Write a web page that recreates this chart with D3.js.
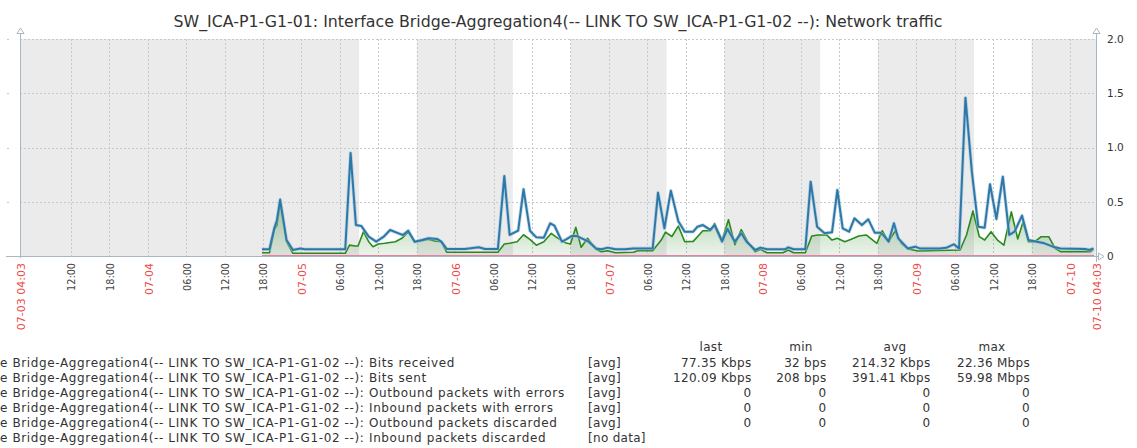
<!DOCTYPE html>
<html>
<head>
<meta charset="utf-8">
<script src="https://cdn.jsdelivr.net/npm/d3@7"></script>
<style>
  html, body { margin: 0; padding: 0; background: #fff; overflow: hidden; }
  svg { display: block; font-family: "DejaVu Sans", sans-serif; }
</style>
</head>
<body>
<svg id="chart" width="1137" height="448"></svg>
<script>
// ---- chart data -------------------------------------------------------
const title = "SW_ICA-P1-G1-01: Interface Bridge-Aggregation4(-- LINK TO SW_ICA-P1-G1-02 --): Network traffic";
const periodStart = "2021-07-03 04:03";
const periodEnd = "2021-07-10 04:03";

// working time (white background): weekdays 09:00-18:00
const workDays = ["2021-07-05", "2021-07-06", "2021-07-07", "2021-07-08", "2021-07-09"];
const workHours = [9, 18];

const yTicks = [0, 0.5, 1.0, 1.5, 2.0];

// Bits sent, hourly averages
const bitsSent = [
  ["07-04 17:50", 0.062], ["07-04 19:00", 0.062], ["07-04 19:45", 0.255], ["07-04 20:10", 0.33],
  ["07-04 20:40", 0.52], ["07-04 21:40", 0.147], ["07-04 22:40", 0.055], ["07-04 23:50", 0.07],
  ["07-05 00:30", 0.062], ["07-05 06:50", 0.062], ["07-05 07:40", 0.95], ["07-05 08:30", 0.285],
  ["07-05 09:20", 0.277], ["07-05 10:30", 0.178], ["07-05 11:40", 0.132], ["07-05 12:50", 0.178],
  ["07-05 13:50", 0.24], ["07-05 15:10", 0.209], ["07-05 15:50", 0.194], ["07-05 16:40", 0.233],
  ["07-05 17:40", 0.132], ["07-05 18:50", 0.147], ["07-05 19:50", 0.163], ["07-05 21:10", 0.157],
  ["07-05 21:50", 0.132], ["07-05 22:40", 0.065], ["07-06 01:30", 0.065], ["07-06 03:40", 0.08],
  ["07-06 04:40", 0.065], ["07-06 06:40", 0.065], ["07-06 07:40", 0.737], ["07-06 08:30", 0.194],
  ["07-06 09:50", 0.233], ["07-06 10:40", 0.615], ["07-06 11:40", 0.233], ["07-06 12:40", 0.172],
  ["07-06 13:50", 0.169], ["07-06 14:50", 0.301], ["07-06 15:30", 0.279], ["07-06 16:40", 0.132],
  ["07-06 17:20", 0.154], ["07-06 18:10", 0.184], ["07-06 19:00", 0.184], ["07-06 19:45", 0.163],
  ["07-06 20:50", 0.132], ["07-06 22:00", 0.07], ["07-06 22:50", 0.062], ["07-06 23:50", 0.077],
  ["07-07 01:00", 0.062], ["07-07 02:30", 0.062], ["07-07 03:50", 0.07], ["07-07 06:50", 0.07],
  ["07-07 07:40", 0.584], ["07-07 08:40", 0.255], ["07-07 09:40", 0.602], ["07-07 10:50", 0.32],
  ["07-07 11:50", 0.224], ["07-07 13:10", 0.224], ["07-07 13:50", 0.27], ["07-07 14:40", 0.285],
  ["07-07 15:50", 0.24], ["07-07 16:30", 0.285], ["07-07 17:40", 0.132], ["07-07 18:30", 0.25],
  ["07-07 19:40", 0.132], ["07-07 20:40", 0.21], ["07-07 21:30", 0.132], ["07-07 22:50", 0.055],
  ["07-07 23:40", 0.077], ["07-08 00:40", 0.062], ["07-08 03:30", 0.062], ["07-08 04:00", 0.08],
  ["07-08 04:50", 0.062], ["07-08 06:40", 0.062], ["07-08 07:30", 0.685], ["07-08 08:30", 0.27],
  ["07-08 09:40", 0.209], ["07-08 10:50", 0.218], ["07-08 11:40", 0.608], ["07-08 12:30", 0.255],
  ["07-08 13:30", 0.224], ["07-08 14:20", 0.347], ["07-08 15:30", 0.285], ["07-08 16:30", 0.338],
  ["07-08 17:30", 0.215], ["07-08 18:20", 0.215], ["07-08 18:50", 0.194], ["07-08 19:40", 0.132],
  ["07-08 20:30", 0.301], ["07-08 21:10", 0.163], ["07-08 22:40", 0.07], ["07-08 23:50", 0.086],
  ["07-09 00:30", 0.07], ["07-09 03:40", 0.07], ["07-09 04:40", 0.075], ["07-09 05:50", 0.108],
  ["07-09 06:40", 0.07], ["07-09 07:40", 1.459], ["07-09 08:40", 0.777], ["07-09 09:40", 0.27],
  ["07-09 10:40", 0.261], ["07-09 11:30", 0.661], ["07-09 12:30", 0.341], ["07-09 13:30", 0.731],
  ["07-09 14:30", 0.194], ["07-09 15:20", 0.224], ["07-09 16:30", 0.372], ["07-09 17:30", 0.147],
  ["07-09 18:50", 0.132], ["07-09 20:00", 0.117], ["07-09 21:20", 0.086], ["07-09 22:30", 0.07],
  ["07-10 02:20", 0.065], ["07-10 03:00", 0.055], ["07-10 03:40", 0.07]
];

// Bits received, hourly averages
const bitsReceived = [
  ["07-04 17:50", 0.03], ["07-04 19:00", 0.03], ["07-04 19:45", 0.24], ["07-04 20:10", 0.285],
  ["07-04 20:40", 0.486], ["07-04 21:40", 0.132], ["07-04 22:40", 0.025], ["07-05 06:50", 0.025],
  ["07-05 07:30", 0.1], ["07-05 08:20", 0.092], ["07-05 08:50", 0.092], ["07-05 09:40", 0.224],
  ["07-05 10:30", 0.132], ["07-05 11:10", 0.086], ["07-05 12:00", 0.11], ["07-05 13:00", 0.117],
  ["07-05 14:40", 0.132], ["07-05 15:40", 0.163], ["07-05 16:40", 0.221], ["07-05 17:40", 0.132],
  ["07-05 18:50", 0.14], ["07-05 19:50", 0.154], ["07-05 20:50", 0.138], ["07-05 21:50", 0.132],
  ["07-05 22:40", 0.035], ["07-06 06:40", 0.035], ["07-06 07:40", 0.11], ["07-06 08:30", 0.117],
  ["07-06 09:40", 0.132], ["07-06 10:40", 0.196], ["07-06 11:40", 0.154], ["07-06 12:40", 0.1],
  ["07-06 13:50", 0.132], ["07-06 15:00", 0.209], ["07-06 15:50", 0.172], ["07-06 17:10", 0.123],
  ["07-06 18:00", 0.11], ["07-06 18:50", 0.264], ["07-06 19:40", 0.08], ["07-06 20:40", 0.163],
  ["07-06 22:00", 0.062], ["07-06 22:50", 0.04], ["07-06 23:50", 0.049], ["07-07 01:00", 0.03],
  ["07-07 03:50", 0.035], ["07-07 04:30", 0.049], ["07-07 06:50", 0.049], ["07-07 08:10", 0.147],
  ["07-07 08:50", 0.22], ["07-07 09:50", 0.18], ["07-07 10:50", 0.276], ["07-07 11:50", 0.132],
  ["07-07 13:10", 0.135], ["07-07 14:40", 0.233], ["07-07 15:50", 0.233], ["07-07 16:30", 0.301],
  ["07-07 17:40", 0.147], ["07-07 18:40", 0.335], ["07-07 19:40", 0.105], ["07-07 20:40", 0.243],
  ["07-07 21:40", 0.132], ["07-07 22:50", 0.04], ["07-07 23:40", 0.062], ["07-08 00:40", 0.03],
  ["07-08 03:10", 0.03], ["07-08 04:00", 0.055], ["07-08 04:50", 0.03], ["07-08 06:40", 0.03],
  ["07-08 07:40", 0.184], ["07-08 08:40", 0.194], ["07-08 10:00", 0.194], ["07-08 10:50", 0.147],
  ["07-08 11:40", 0.163], ["07-08 12:50", 0.132], ["07-08 13:50", 0.154], ["07-08 15:00", 0.184],
  ["07-08 16:10", 0.194], ["07-08 17:50", 0.117], ["07-08 18:40", 0.233], ["07-08 19:40", 0.132],
  ["07-08 20:40", 0.23], ["07-08 21:40", 0.117], ["07-08 22:40", 0.065], ["07-09 00:20", 0.046],
  ["07-09 06:50", 0.055], ["07-09 07:50", 0.194], ["07-09 08:50", 0.415], ["07-09 09:50", 0.178],
  ["07-09 10:40", 0.147], ["07-09 11:40", 0.224], ["07-09 12:40", 0.147], ["07-09 13:40", 0.1],
  ["07-09 14:50", 0.408], ["07-09 15:50", 0.157], ["07-09 16:40", 0.316], ["07-09 17:30", 0.132],
  ["07-09 18:30", 0.132], ["07-09 19:30", 0.178], ["07-09 20:40", 0.178], ["07-09 21:40", 0.07],
  ["07-09 22:30", 0.04], ["07-10 03:10", 0.04], ["07-10 03:40", 0.062]
];

// error / discard counters: zero over the whole collected range
const outErrors = [["07-04 17:50", 0], ["07-10 03:40", 0]];
const inErrors = [["07-04 17:50", 0], ["07-10 03:40", 0]];
const outDiscards = [["07-04 17:50", 0], ["07-10 03:40", 0]];

// legend table
const legendHidden = "Interface ";
const legendPrefix = "Bridge-Aggregation4(-- LINK TO SW_ICA-P1-G1-02 --): ";
const legendItems = ["Bits received", "Bits sent", "Outbound packets with errors",
                     "Inbound packets with errors", "Outbound packets discarded", "Inbound packets discarded"];
const legendFunc = ["[avg]", "[avg]", "[avg]", "[avg]", "[avg]", "[no data]"];
const legendHeaders = ["last", "min", "avg", "max"];
const legendLast = ["77.35 Kbps", "120.09 Kbps", "0", "0", "0", ""];
const legendMin = ["32 bps", "208 bps", "0", "0", "0", ""];
const legendAvg = ["214.32 Kbps", "391.41 Kbps", "0", "0", "0", ""];
const legendMax = ["22.36 Mbps", "59.98 Mbps", "0", "0", "0", ""];

// ---- drawing ------------------------------------------------------------
const parseFull = d3.timeParse("%Y-%m-%d %H:%M");
const parseShort = s => parseFull("2021-" + s);
const t0 = parseFull(periodStart), t1 = parseFull(periodEnd);

const M = { left: 20, right: 1096, top: 39, bottom: 256 };
const x = d3.scaleTime().domain([t0, t1]).range([M.left, M.right]);
const y = d3.scaleLinear().domain([0, 2]).range([M.bottom, M.top]);

const svg = d3.select("#chart");
const axisColor = "#a9b7c2";
const gridColor = "#c3c9cf";

// title
svg.append("text")
  .attr("x", 558).attr("y", 26.5)
  .attr("text-anchor", "middle")
  .attr("font-size", 15.8)
  .attr("fill", "#333")
  .text(title);

// background: non-working time grey, working time white
svg.append("rect")
  .attr("x", M.left).attr("y", M.top)
  .attr("width", M.right - M.left).attr("height", M.bottom - M.top)
  .attr("fill", "#ebebeb");
const dayStart = d => parseFull(d + " 00:00");
svg.append("g").selectAll("rect")
  .data(workDays)
  .join("rect")
  .attr("x", d => x(d3.timeHour.offset(dayStart(d), workHours[0])))
  .attr("width", d => x(d3.timeHour.offset(dayStart(d), workHours[1])) - x(d3.timeHour.offset(dayStart(d), workHours[0])))
  .attr("y", M.top).attr("height", M.bottom - M.top)
  .attr("fill", "#ffffff");

// time ticks every 6 hours (none too close to the period edges)
const timeTicks = d3.timeHour.every(6).range(d3.timeHour.offset(t0, 3), t1);

// grid
const grid = svg.append("g").attr("stroke", gridColor).attr("stroke-dasharray", "2,2").attr("stroke-width", 1);
grid.selectAll("line.v")
  .data(timeTicks)
  .join("line")
  .attr("x1", d => Math.round(x(d)) + 0.5).attr("x2", d => Math.round(x(d)) + 0.5)
  .attr("y1", M.top).attr("y2", M.bottom);
grid.selectAll("line.h")
  .data(yTicks.filter(v => v > 0))
  .join("line")
  .attr("class", "h")
  .attr("x1", M.left).attr("x2", M.right)
  .attr("y1", d => Math.round(y(d)) + 0.5).attr("y2", d => Math.round(y(d)) + 0.5);

// left-side minor ticks
svg.append("g").selectAll("line")
  .data(yTicks)
  .join("line")
  .attr("x1", 7).attr("x2", 9)
  .attr("y1", d => Math.round(y(d)) + 0.5).attr("y2", d => Math.round(y(d)) + 0.5)
  .attr("stroke", "#c8c8c8");

// series
const toPts = arr => arr.map(([t, v]) => ({ t: parseShort(t), v }));
const sent = toPts(bitsSent), recv = toPts(bitsReceived);

const defs = svg.append("defs");
const grad = defs.append("linearGradient")
  .attr("id", "recvFill")
  .attr("gradientUnits", "userSpaceOnUse")
  .attr("x1", 0).attr("x2", 0)
  .attr("y1", y(0.5)).attr("y2", y(0));
grad.append("stop").attr("offset", 0).attr("stop-color", "#1a7c11").attr("stop-opacity", 0.36);
grad.append("stop").attr("offset", 1).attr("stop-color", "#1a7c11").attr("stop-opacity", 0.08);

const area = d3.area().x(d => x(d.t)).y0(y(0)).y1(d => y(d.v));
const line = d3.line().x(d => x(d.t)).y(d => y(d.v));

svg.append("path").datum(recv).attr("d", area).attr("fill", "url(#recvFill)");

svg.append("path").datum(recv).attr("d", line)
  .attr("fill", "none").attr("stroke", "#2a8a1e").attr("stroke-width", 1.6)
  .attr("stroke-linejoin", "round");

svg.append("path").datum(sent).attr("d", line)
  .attr("fill", "none").attr("stroke", "#9fc3dc").attr("stroke-width", 3.6)
  .attr("stroke-linejoin", "round").attr("opacity", 0.6);
svg.append("path").datum(sent).attr("d", line)
  .attr("fill", "none").attr("stroke", "#2e78a8").attr("stroke-width", 2)
  .attr("stroke-linejoin", "round");

// zero counters
[[outErrors, "#f07060"], [inErrors, "#a55010"], [outDiscards, "#ec7fa8"]].forEach(([arr, c]) => {
  svg.append("path").datum(toPts(arr)).attr("d", line)
    .attr("fill", "none").attr("stroke", c).attr("stroke-width", 2);
});

// axes lines
const ax = svg.append("g").attr("stroke", axisColor).attr("fill", "#fff").attr("stroke-width", 1);
ax.append("line").attr("x1", M.left + 0.5).attr("x2", M.left + 0.5).attr("y1", 30).attr("y2", M.bottom + 2);
ax.append("line").attr("x1", M.right + 0.5).attr("x2", M.right + 0.5).attr("y1", 30).attr("y2", M.bottom + 6);
ax.append("line").attr("x1", M.left - 14).attr("x2", M.right + 4).attr("y1", M.bottom + 0.5).attr("y2", M.bottom + 0.5);
// arrows
ax.append("path").attr("d", `M${M.left + 0.5},28 l3.5,5.5 h-7 z`);
ax.append("path").attr("d", `M${M.right + 0.5},28 l3.5,5.5 h-7 z`);
ax.append("path").attr("d", `M${M.right + 8},${M.bottom + 0.5} l-5.5,-3.5 v7 z`);

// right value axis
const yAxis = d3.axisRight(y).tickValues(yTicks).tickSize(0).tickPadding(11)
  .tickFormat(d => d === 0 ? "0" : d3.format(".1f")(d));
const ya = svg.append("g").attr("transform", `translate(${M.right},0)`).call(yAxis);
ya.select(".domain").remove();
ya.selectAll("text").attr("font-size", 10.5).attr("fill", "#333").attr("font-family", "DejaVu Sans");

// time labels (rotated)
const fmtDay = d3.timeFormat("%m-%d"), fmtHour = d3.timeFormat("%H:%M"), fmtFull = d3.timeFormat("%m-%d %H:%M");
const timeLabels = [
  { t: t0, text: fmtFull(t0), main: true },
  ...timeTicks.map(t => ({ t, text: t.getHours() === 0 ? fmtDay(t) : fmtHour(t), main: t.getHours() === 0 })),
  { t: t1, text: fmtFull(t1), main: true }
];
svg.append("g").selectAll("text")
  .data(timeLabels)
  .join("text")
  .attr("transform", d => `translate(${x(d.t) + (d.main ? 4.8 : 4.3)},${M.bottom + 7}) rotate(-90)`)
  .attr("text-anchor", "end")
  .attr("font-size", d => d.main ? 11 : 9.7)
  .attr("fill", d => d.main ? "#ec4a4a" : "#444")
  .text(d => d.text);

// legend
const leg = svg.append("g").attr("font-size", 12).attr("fill", "#333");
const rowY = i => 366.5 + i * 15.1;
const cols = [751.5, 826.5, 930.5, 1030];
const headX = [711, 801, 895, 992];
const labelSpacing = 0.63, valueSpacing = 0.3;

// the item names run off the left edge; place them so "Bridge" starts at x = 8
const probe = leg.append("text").attr("letter-spacing", labelSpacing).text(legendHidden);
const hiddenW = probe.node().getComputedTextLength();
probe.remove();

leg.selectAll("text.h").data(legendHeaders).join("text")
  .attr("class", "h").attr("x", (d, i) => headX[i]).attr("y", 351)
  .attr("letter-spacing", valueSpacing)
  .attr("text-anchor", "middle").text(d => d);
leg.selectAll("text.n").data(legendItems).join("text")
  .attr("class", "n").attr("x", 8 - hiddenW).attr("y", (d, i) => rowY(i))
  .attr("letter-spacing", labelSpacing)
  .text(d => legendHidden + legendPrefix + d);
leg.selectAll("text.f").data(legendFunc).join("text")
  .attr("class", "f").attr("x", 588).attr("y", (d, i) => rowY(i))
  .attr("letter-spacing", valueSpacing)
  .text(d => d);
[legendLast, legendMin, legendAvg, legendMax].forEach((col, ci) => {
  leg.append("g").selectAll("text").data(col).join("text")
    .attr("x", cols[ci]).attr("y", (d, i) => rowY(i))
    .attr("letter-spacing", valueSpacing)
    .attr("text-anchor", "end").text(d => d);
});
</script>
</body>
</html>
